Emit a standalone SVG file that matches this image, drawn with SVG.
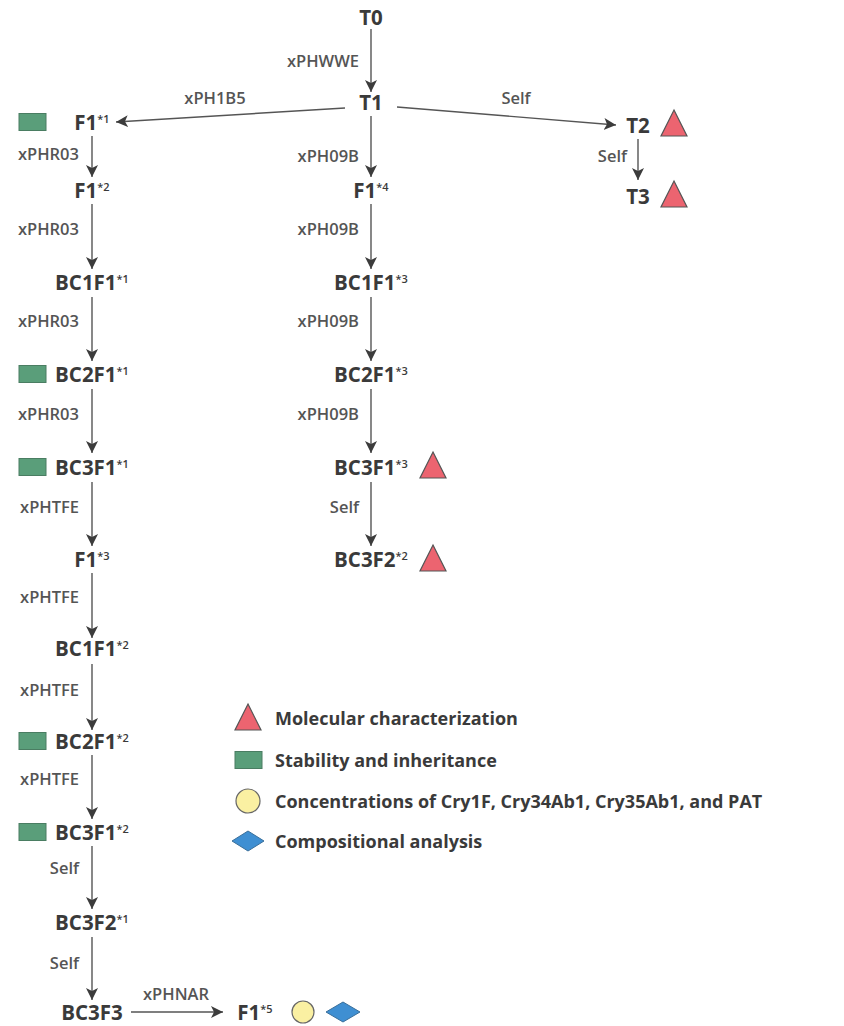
<svg xmlns="http://www.w3.org/2000/svg" width="844" height="1026" viewBox="0 0 844 1026">
<style>
.n{font-family:"Open Sans","Liberation Sans",sans-serif;font-weight:700;font-size:20.5px;fill:#3a3a3a;text-anchor:middle}
.s{font-size:11px;font-weight:600}
.l{font-family:"Open Sans","Liberation Sans",sans-serif;font-weight:600;font-size:16.5px;fill:#555;text-anchor:end}
.lc{text-anchor:middle}
.g{font-family:"Open Sans","Liberation Sans",sans-serif;font-weight:700;font-size:18px;fill:#3a3a3a}
.e{stroke:#555;stroke-width:1.4;fill:none;marker-end:url(#ah)}
.tri{fill:#ec6470;stroke:#555;stroke-width:1.2}
.rec{fill:#5a9e7a;stroke:#4a7d62;stroke-width:1}
.cir{fill:#faf0a2;stroke:#666;stroke-width:1.2}
.dia{fill:#3f8fd2;stroke:#3a6f9a;stroke-width:1}
</style>
<defs>
<marker id="ah" markerUnits="userSpaceOnUse" markerWidth="14" markerHeight="14" refX="12" refY="6" orient="auto">
<path d="M0,0 L12,6 L0,12 L3,6 z" fill="#3c3c3c"/>
</marker>
<polygon id="triS" points="0,-13 13,13 -13,13" class="tri"/>
<rect id="recS" x="-13.5" y="-8.5" width="27" height="17" class="rec"/>
</defs>
<rect width="844" height="1026" fill="#fff"/>
<g id="connectors">
<line class="e" x1="371" y1="29" x2="371" y2="92"/>
<text class="l" x="359" y="67">xPHWWE</text>
<line class="e" x1="345" y1="108" x2="116" y2="122"/>
<text class="l lc" x="215" y="104">xPH1B5</text>
<line class="e" x1="397" y1="107" x2="616" y2="125"/>
<text class="l lc" x="516" y="104">Self</text>
<line class="e" x1="638" y1="139" x2="638" y2="180"/>
<text class="l" x="627" y="162">Self</text>
<line class="e" x1="371" y1="116" x2="371" y2="177"/>
<text class="l" x="359" y="162">xPH09B</text>
<line class="e" x1="371" y1="204" x2="371" y2="269"/>
<text class="l" x="359" y="235">xPH09B</text>
<line class="e" x1="371" y1="297" x2="371" y2="361"/>
<text class="l" x="359" y="327">xPH09B</text>
<line class="e" x1="371" y1="389" x2="371" y2="453"/>
<text class="l" x="359" y="420">xPH09B</text>
<line class="e" x1="371" y1="482" x2="371" y2="546"/>
<text class="l" x="359" y="513">Self</text>
<line class="e" x1="92" y1="136" x2="92" y2="177"/>
<text class="l" x="79" y="160">xPHR03</text>
<line class="e" x1="92" y1="204" x2="92" y2="269"/>
<text class="l" x="79" y="235">xPHR03</text>
<line class="e" x1="92" y1="297" x2="92" y2="361"/>
<text class="l" x="79" y="327">xPHR03</text>
<line class="e" x1="92" y1="389" x2="92" y2="453"/>
<text class="l" x="79" y="420">xPHR03</text>
<line class="e" x1="92" y1="482" x2="92" y2="546"/>
<text class="l" x="79" y="513">xPHTFE</text>
<line class="e" x1="92" y1="573" x2="92" y2="638"/>
<text class="l" x="79" y="603">xPHTFE</text>
<line class="e" x1="92" y1="664" x2="92" y2="730"/>
<text class="l" x="79" y="696">xPHTFE</text>
<line class="e" x1="92" y1="755" x2="92" y2="819"/>
<text class="l" x="79" y="785">xPHTFE</text>
<line class="e" x1="92" y1="846" x2="92" y2="909"/>
<text class="l" x="79" y="874">Self</text>
<line class="e" x1="92" y1="937" x2="92" y2="1000"/>
<text class="l" x="79" y="969">Self</text>
<line class="e" x1="131" y1="1012" x2="223" y2="1012"/>
<text class="l lc" x="176" y="1000">xPHNAR</text>
</g>
<g id="T0"><text class="n" x="371" y="25">T0</text></g>
<g id="T1"><text class="n" x="371" y="110">T1</text></g>
<g id="T2"><text class="n" x="638" y="133">T2</text><use href="#triS" x="674" y="123"/></g>
<g id="T3"><text class="n" x="638" y="204">T3</text><use href="#triS" x="674" y="194"/></g>
<g id="F1_1"><use href="#recS" x="32.5" y="122"/><text class="n" x="92" y="130">F1<tspan class="s" dy="-7">*1</tspan></text></g>
<g id="F1_2"><text class="n" x="92" y="198">F1<tspan class="s" dy="-7">*2</tspan></text></g>
<g id="BC1F1_1"><text class="n" x="92" y="290">BC1F1<tspan class="s" dy="-7">*1</tspan></text></g>
<g id="BC2F1_1"><use href="#recS" x="32.5" y="374"/><text class="n" x="92" y="382">BC2F1<tspan class="s" dy="-7">*1</tspan></text></g>
<g id="BC3F1_1"><use href="#recS" x="32.5" y="467"/><text class="n" x="92" y="475">BC3F1<tspan class="s" dy="-7">*1</tspan></text></g>
<g id="F1_3"><text class="n" x="92" y="567">F1<tspan class="s" dy="-7">*3</tspan></text></g>
<g id="BC1F1_2"><text class="n" x="92" y="656">BC1F1<tspan class="s" dy="-7">*2</tspan></text></g>
<g id="BC2F1_2"><use href="#recS" x="32.5" y="741"/><text class="n" x="92" y="749">BC2F1<tspan class="s" dy="-7">*2</tspan></text></g>
<g id="BC3F1_2"><use href="#recS" x="32.5" y="832"/><text class="n" x="92" y="840">BC3F1<tspan class="s" dy="-7">*2</tspan></text></g>
<g id="BC3F2_1"><text class="n" x="92" y="930">BC3F2<tspan class="s" dy="-7">*1</tspan></text></g>
<g id="BC3F3"><text class="n" x="92" y="1020">BC3F3</text></g>
<g id="F1_5"><text class="n" x="255" y="1020">F1<tspan class="s" dy="-7">*5</tspan></text><circle class="cir" cx="303" cy="1012" r="11"/><polygon class="dia" points="326,1012 343,1002 360,1012 343,1022"/></g>
<g id="F1_4"><text class="n" x="371" y="198">F1<tspan class="s" dy="-7">*4</tspan></text></g>
<g id="BC1F1_3"><text class="n" x="371" y="290">BC1F1<tspan class="s" dy="-7">*3</tspan></text></g>
<g id="BC2F1_3"><text class="n" x="371" y="382">BC2F1<tspan class="s" dy="-7">*3</tspan></text></g>
<g id="BC3F1_3"><text class="n" x="371" y="475">BC3F1<tspan class="s" dy="-7">*3</tspan></text><use href="#triS" x="433" y="465"/></g>
<g id="BC3F2_2"><text class="n" x="371" y="567">BC3F2<tspan class="s" dy="-7">*2</tspan></text><use href="#triS" x="433" y="558"/></g>
<g id="legend">
<use href="#triS" x="248" y="717"/>
<text class="g" x="275" y="725">Molecular characterization</text>
<use href="#recS" x="248.5" y="760"/>
<text class="g" x="275" y="767">Stability and inheritance</text>
<circle class="cir" cx="248" cy="801" r="12"/>
<text class="g" x="275" y="808">Concentrations of Cry1F, Cry34Ab1, Cry35Ab1, and PAT</text>
<polygon class="dia" points="232,841 248,831 264,841 248,851"/>
<text class="g" x="275" y="848">Compositional analysis</text>
</g>
</svg>
